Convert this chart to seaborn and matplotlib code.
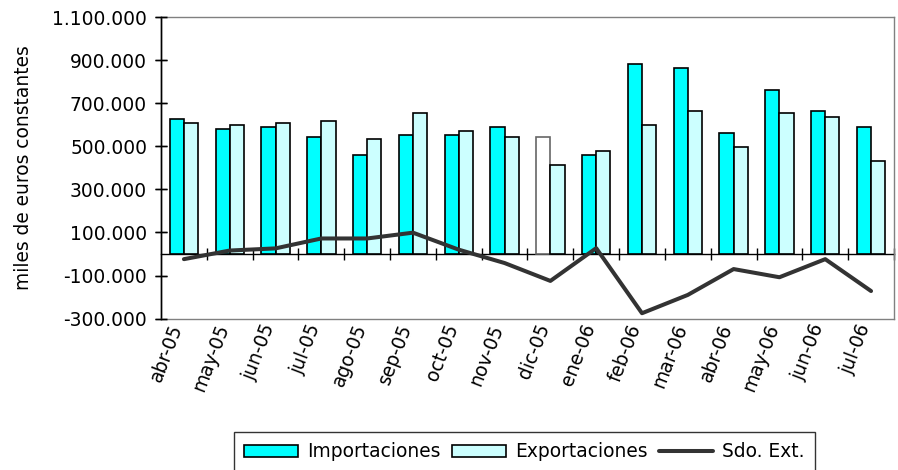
import numpy as np
import pandas as pd
import matplotlib
matplotlib.use("Agg")
import matplotlib.pyplot as plt
import matplotlib.transforms as mtransforms
import seaborn as sns
from matplotlib.ticker import FuncFormatter
from matplotlib.patches import Patch
from matplotlib.lines import Line2D

# Monthly foreign trade, thousands of constant euros
meses = ["abr-05", "may-05", "jun-05", "jul-05", "ago-05", "sep-05", "oct-05",
         "nov-05", "dic-05", "ene-06", "feb-06", "mar-06", "abr-06", "may-06",
         "jun-06", "jul-06"]
importaciones = [628000, 582000, 590000, 545000, 461000, 554000, 552000, 590000,
                 545000, 459000, 880000, 862000, 562000, 759000, 664000, 590000]
exportaciones = [608000, 599000, 608000, 617000, 535000, 655000, 571000, 545000,
                 412000, 478000, 599000, 664000, 498000, 655000, 638000, 431000]
saldo = [-24000, 16000, 26000, 72000, 72000, 99000, 20000, -42000,
         -125000, 27000, -275000, -190000, -70000, -108000, -24000, -172000]
yticks = list(range(-300000, 1100001, 200000))

COL_IMP = "#00FFFF"
COL_EXP = "#CCFFFF"
COL_SALDO = "#333333"

sns.set_theme(style="ticks")
plt.rcParams["font.family"] = ["DejaVu Sans"]
plt.rcParams.update({
    "text.color": "black",
    "axes.labelcolor": "black",
    "xtick.color": "black",
    "ytick.color": "black",
    "axes.axisbelow": False,
})
FS = 13.4

df = pd.DataFrame({
    "mes": meses * 2,
    "valor": importaciones + exportaciones,
    "serie": ["Importaciones"] * len(meses) + ["Exportaciones"] * len(meses),
})

fig = plt.figure(figsize=(8.98, 4.70), dpi=100)
ax = fig.add_axes([0.1793, 0.3221, 0.8162, 0.6417])

sns.barplot(data=df, x="mes", y="valor", hue="serie",
            palette={"Importaciones": COL_IMP, "Exportaciones": COL_EXP},
            width=0.62, gap=0, saturation=1, edgecolor="black", linewidth=1.2,
            legend=False, ax=ax)

# the December imports bar is drawn unfilled
dic = ax.containers[0][meses.index("dic-05")]
dic.set_facecolor("white")
dic.set_edgecolor("#666666")

sns.lineplot(x=np.arange(len(meses)), y=saldo, color=COL_SALDO, linewidth=2.9,
             ax=ax, zorder=5)

ax.set_xlim(-0.5, len(meses) - 0.5)
ax.set_ylim(yticks[0], yticks[-1])
ax.set_yticks(yticks)
ax.yaxis.set_major_formatter(FuncFormatter(lambda v, p: f"{int(v):,}".replace(",", ".")))

ax.set_xticks(np.arange(len(meses)))
ax.set_xticklabels(meses, rotation=69, ha="right", rotation_mode="anchor", fontsize=FS)
ax.tick_params(axis="x", bottom=False, top=False, length=0, pad=2)
shift = mtransforms.ScaledTranslation(-15 / 100, 0, fig.dpi_scale_trans)
for lab in ax.get_xticklabels():
    lab.set_transform(lab.get_transform() + shift)

ax.tick_params(axis="y", which="major", direction="inout", length=8, width=1,
               color="black", labelcolor="black", labelsize=FS, pad=6,
               left=True, right=False)
ax.set_xlabel("")
ax.set_ylabel("miles de euros constantes", fontsize=FS, color="black")
ax.yaxis.set_label_coords(-0.174, 0.5)

for side in ("top", "right", "bottom"):
    ax.spines[side].set_visible(True)
    ax.spines[side].set_color("#808080")
    ax.spines[side].set_linewidth(1)
ax.spines["left"].set_color("black")
ax.spines["left"].set_linewidth(1)

# value-axis tick marks crossing the left spine
left_axis = ax.secondary_yaxis("left")
left_axis.set_yticks(yticks)
left_axis.tick_params(direction="inout", length=8, width=1, color="black",
                      labelleft=False, labelright=False)
left_axis.spines["left"].set_color("black")
left_axis.spines["left"].set_linewidth(1)

# zero axis with category separators
y0, y1 = ax.get_ylim()
zero_axis = ax.secondary_xaxis((0 - y0) / (y1 - y0))
zero_axis.set_xticks(np.arange(0.5, len(meses), 1))
zero_axis.tick_params(direction="inout", length=8, width=1, color="black",
                      labelbottom=False, labeltop=False)
for s in zero_axis.spines.values():
    s.set_color("black")
    s.set_linewidth(1)

handles = [
    Patch(facecolor=COL_IMP, edgecolor="black", linewidth=1.2),
    Patch(facecolor=COL_EXP, edgecolor="black", linewidth=1.2),
    Line2D([], [], color=COL_SALDO, linewidth=2.9),
]
leg = fig.legend(handles, ["Importaciones", "Exportaciones", "Sdo. Ext."],
                 loc="upper center", bbox_to_anchor=(0.584, 0.0809), ncol=3,
                 fontsize=FS, frameon=True, fancybox=False, edgecolor="black",
                 handlelength=2.9, handleheight=0.6, handletextpad=0.5,
                 columnspacing=0.6, borderpad=0.55, borderaxespad=0)
leg.get_frame().set_linewidth(1)

fig.savefig("out.png", dpi=100, facecolor="white")
